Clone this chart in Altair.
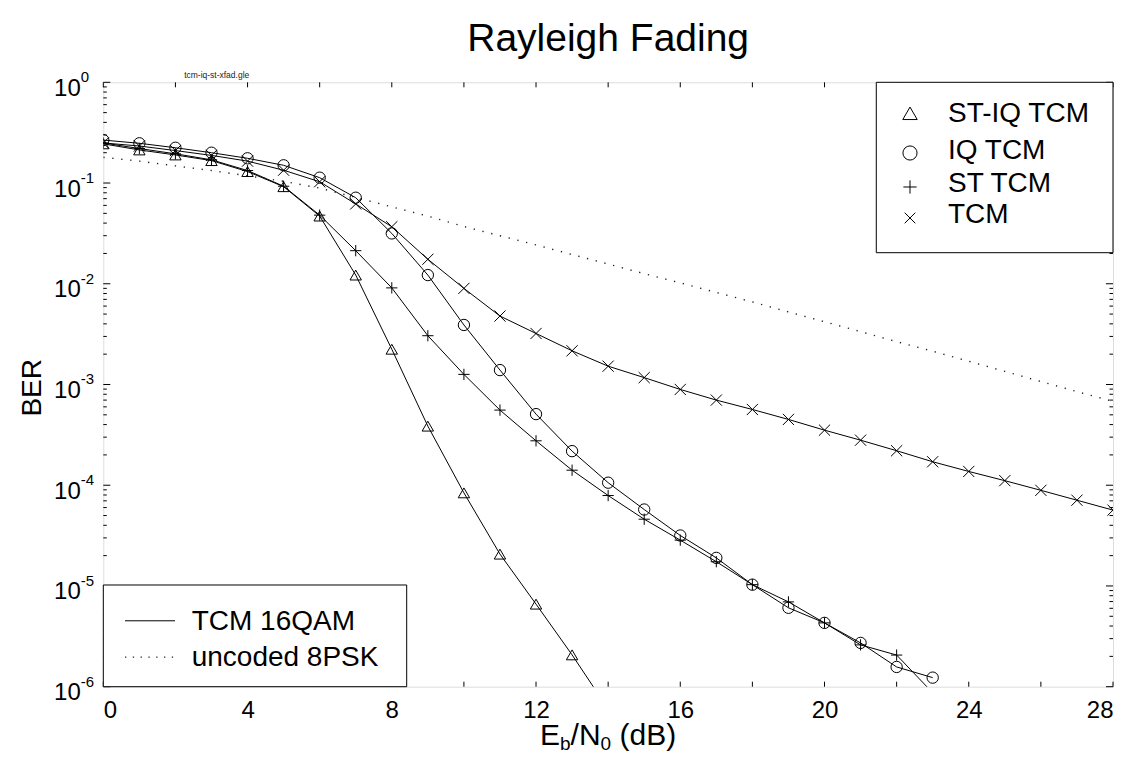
import altair as alt
import pandas as pd

# ---------------- data ----------------
series_names = ["ST-IQ TCM", "IQ TCM", "ST TCM", "TCM"]
line_styles = ["TCM 16QAM", "uncoded 8PSK"]

snr_st_iq = list(range(0, 15))
ber_st_iq = [0.245, 0.213, 0.19, 0.167, 0.13, 0.092, 0.047, 0.0122, 0.00224,
             3.86e-4, 8.4e-5, 2.07e-5, 6.6e-6, 2.07e-6, 6.0e-7]

snr_iq = list(range(0, 24))
ber_iq = [0.267, 0.248, 0.224, 0.2, 0.176, 0.15, 0.113, 0.0715, 0.0316, 0.0122,
          0.0039, 0.00139, 5.08e-4, 2.18e-4, 1.06e-4, 5.74e-5, 3.17e-5, 1.9e-5,
          1.03e-5, 6.07e-6, 4.3e-6, 2.72e-6, 1.57e-6, 1.23e-6]

snr_st = list(range(0, 24))
ber_st = [0.25, 0.22, 0.195, 0.17, 0.133, 0.093, 0.048, 0.0213, 0.0091, 0.00305,
          0.00126, 5.57e-4, 2.76e-4, 1.41e-4, 7.9e-5, 4.6e-5, 2.85e-5, 1.74e-5,
          1.03e-5, 6.95e-6, 4.3e-6, 2.6e-6, 2.06e-6, 8.7e-7]

snr_tcm = list(range(0, 29))
ber_tcm = [0.25, 0.233, 0.21, 0.188, 0.165, 0.134, 0.103, 0.062, 0.0368, 0.0175,
           0.009, 0.00478, 0.00321, 0.00216, 0.00152, 0.00117, 8.93e-4, 7.0e-4,
           5.65e-4, 4.5e-4, 3.52e-4, 2.8e-4, 2.2e-4, 1.71e-4, 1.37e-4, 1.11e-4,
           8.9e-5, 7.1e-5, 5.66e-5]

snr_unc = list(range(0, 29))
ber_unc = [0.18, 0.165, 0.148, 0.133, 0.118, 0.104, 0.089, 0.072, 0.058, 0.047,
           0.037, 0.030, 0.0243, 0.0195, 0.0157, 0.0126, 0.0102, 0.0082, 0.0066,
           0.00525, 0.0042, 0.00335, 0.00266, 0.00214, 0.0017, 0.00135, 0.00107,
           8.5e-4, 6.8e-4]

x_tick_values = list(range(0, 29, 2))
x_label_values = list(range(0, 29, 4))
y_decades = [-6, -5, -4, -3, -2, -1, 0]

# ---------------- tables ----------------
rows = []
for name, xs_, ys_ in zip(series_names,
                          [snr_st_iq, snr_iq, snr_st, snr_tcm],
                          [ber_st_iq, ber_iq, ber_st, ber_tcm]):
    for a, b in zip(xs_, ys_):
        rows.append({"snr": a, "ber": b, "series": name})
coded = pd.DataFrame(rows)
uncoded = pd.DataFrame({"snr": snr_unc, "ber": ber_unc})

major_y = pd.DataFrame({"v": [10.0 ** e for e in y_decades]})
minor_y = pd.DataFrame({"v": [m * 10.0 ** e for e in y_decades[:-1] for m in range(2, 10)]})
xt = pd.DataFrame({"v": x_tick_values})
exps = pd.DataFrame({"v": [10.0 ** e for e in y_decades], "t": [str(e) for e in y_decades]})

# ---------------- layout ----------------
W, H = 1009.7, 604.4
FONT = "Liberation Sans"

xs = alt.Scale(domain=[0, 28], nice=False, zero=False)
ys = alt.Scale(type="log", domain=[1e-6, 1], nice=False)

PLUS = "M-1,0L1,0M0,-1L0,1"
XMARK = "M-1,-1L1,1M-1,1L1,-1"
shape_range = ["triangle-up", "circle", PLUS, XMARK]
size_range = [130, 125, 110, 70]

X = alt.X("snr:Q", scale=xs,
          axis=alt.Axis(values=x_label_values, ticks=False, tickSize=0, domain=False,
                        grid=False, labelFontSize=24, labelFont=FONT, labelPadding=12,
                        labelColor="black", title=None))
Y = alt.Y("ber:Q", scale=ys,
          axis=alt.Axis(values=[10.0 ** e for e in y_decades], labelExpr="'10'", ticks=False,
                        tickSize=0, domain=False, grid=False, labelFontSize=24, labelFont=FONT,
                        labelPadding=23, labelAlign="right", labelOffset=6, labelColor="black",
                        labelBaseline="middle",
                        title="BER", titleFontSize=28, titleFont=FONT, titleFontWeight="normal",
                        titleColor="black", titleX=-63, titleY=305, titleAngle=-90,
                        titleBaseline="alphabetic"))

base_coded = alt.Chart(coded)
lines = base_coded.mark_line(color="black", strokeWidth=1, clip=True).encode(
    x=X, y=Y, detail="series:N")
points = base_coded.mark_point(filled=False, color="black", strokeWidth=1, opacity=1,
                               clip=True).encode(
    x=alt.X("snr:Q", scale=xs), y=alt.Y("ber:Q", scale=ys),
    shape=alt.Shape("series:N", scale=alt.Scale(domain=series_names, range=shape_range), legend=None),
    size=alt.Size("series:N", scale=alt.Scale(domain=series_names, range=size_range), legend=None))
dotted = alt.Chart(uncoded).mark_line(color="#222", strokeWidth=1.4, strokeDash=[1.3, 7.7],
                                      clip=True).encode(
    x=alt.X("snr:Q", scale=xs), y=alt.Y("ber:Q", scale=ys))

# inward ticks on all four sides
def yrule(df, x0, x1):
    return alt.Chart(df).mark_rule(color="black", strokeWidth=1).encode(
        y=alt.Y("v:Q", scale=ys), x=alt.value(x0), x2=alt.value(x1))

def xrule(y0, y1):
    return alt.Chart(xt).mark_rule(color="black", strokeWidth=1).encode(
        x=alt.X("v:Q", scale=xs), y=alt.value(y0), y2=alt.value(y1))

ticks = [yrule(major_y, 0, 7), yrule(minor_y, 0, 3.5),
         yrule(major_y, W, W - 7), yrule(minor_y, W, W - 3.5),
         xrule(H, H - 5), xrule(0, 5)]

exponent_text = alt.Chart(exps).mark_text(align="left", baseline="middle", fontSize=15,
                                          font=FONT, dy=-5, color="black").encode(
    y=alt.Y("v:Q", scale=ys), x=alt.value(-22.5), text="t:N")

# legend box 1 (markers)
leg = [alt.Chart(pd.DataFrame({"a": [0]})).mark_rect(fill="white", stroke="black",
                                                     strokeWidth=1).encode(
    x=alt.value(773), x2=alt.value(W), y=alt.value(0), y2=alt.value(170.4))]
sym_y = [31, 70.7, 104.7, 135.7]
txt_y = [32.2, 69.2, 101.7, 132.7]
for name, shp, sz, sy, ty in zip(series_names, shape_range, size_range, sym_y, txt_y):
    d = pd.DataFrame({"label": [name]})
    leg.append(alt.Chart(d).mark_point(shape=shp, size=sz * 1.6, filled=False, color="black",
                                       strokeWidth=1, opacity=1).encode(
        x=alt.value(806.7), y=alt.value(sy)))
    leg.append(alt.Chart(d).mark_text(align="left", baseline="middle", fontSize=28, font=FONT,
                                      color="black").encode(
        x=alt.value(844.7), y=alt.value(ty), text="label:N"))

# legend box 2 (line styles)
leg.append(alt.Chart(pd.DataFrame({"a": [0]})).mark_rect(fill="white", stroke="black",
                                                         strokeWidth=1).encode(
    x=alt.value(0), x2=alt.value(303.4), y=alt.value(502.7), y2=alt.value(H)))
ly = [538.5, 574.8]
leg.append(alt.Chart(pd.DataFrame({"a": [0]})).mark_rule(color="black", strokeWidth=1).encode(
    x=alt.value(21.7), x2=alt.value(71.7), y=alt.value(ly[0])))
leg.append(alt.Chart(pd.DataFrame({"a": [0]})).mark_rule(color="#222", strokeWidth=1.2,
                                                         strokeDash=[1.3, 6.5]).encode(
    x=alt.value(21.7), x2=alt.value(71.7), y=alt.value(ly[1])))
for name, yy in zip(line_styles, ly):
    leg.append(alt.Chart(pd.DataFrame({"label": [name]})).mark_text(
        align="left", baseline="middle", fontSize=28, font=FONT, color="black").encode(
        x=alt.value(88.4), y=alt.value(yy + 1), text="label:N"))

# x-axis title with subscripts: (text, font size, baseline shift, advance width in em)
xt_parts = [("E", 30, 0, 0.667), ("b", 19, 5, 0.556), ("/N", 30, 0, 1.0),
            ("0", 19, 5, 0.556 + 0.278 * 1.6), ("(dB)", 30, 0, 1.889)]
total = sum(w * s for _, s, _, w in xt_parts)
cx = W / 2 - total / 2
xtitle = []
for t, s, off, w in xt_parts:
    xtitle.append(alt.Chart(pd.DataFrame({"label": [t]})).mark_text(
        align="left", baseline="alphabetic", fontSize=s, font=FONT, color="black").encode(
        x=alt.value(cx), y=alt.value(H + 58.5 + off), text="label:N"))
    cx += w * s

filename = alt.Chart(pd.DataFrame({"label": ["tcm-iq-st-xfad.gle"]})).mark_text(
    align="center", baseline="middle", fontSize=8.5, font=FONT, color="#222").encode(
    x=alt.value(113.4), y=alt.value(-7.3), text="label:N")

chart = alt.layer(
    lines, dotted, points, *ticks, exponent_text, *leg, *xtitle, filename
).properties(
    width=W, height=H,
    title=alt.TitleParams("Rayleigh Fading", fontSize=39, font=FONT, fontWeight="normal",
                          color="black", anchor="middle", offset=11),
    autosize=alt.AutoSizeParams(type="none"),
    padding={"left": 95.3, "top": 74.3, "right": 19, "bottom": 68},
).configure_view(stroke="black", strokeWidth=1.3).configure(background="white")

chart.save("out.html", embed_options={"renderer": "svg", "actions": False})
